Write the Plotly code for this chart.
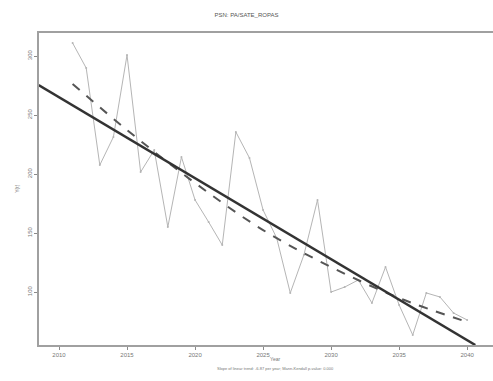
import plotly.graph_objects as go

years = list(range(2011, 2041))
values = [311.0, 289.8, 207.6, 231.4, 300.8, 201.7, 220.3, 155.1, 214.4, 178.0,
          159.3, 139.8, 235.6, 213.6, 169.5, 145.8, 99.2, 131.4, 178.0, 100.0,
          104.2, 110.2, 90.7, 121.2, 89.0, 63.6, 99.2, 95.8, 82.2, 76.3]

smooth_years = [2011, 2015, 2020, 2025, 2030, 2035, 2040]
smooth_values = [276.3, 237.3, 192.4, 152.5, 121.2, 94.9, 74.6]

linear_years = [2008.5, 2040.6]
linear_values = [275.4, 55.1]

x_ticks = [2010, 2015, 2020, 2025, 2030, 2035, 2040]
y_ticks = [100, 150, 200, 250, 300]

gray = "#8a8a8a"
font = dict(family="Liberation Sans, Arial, sans-serif", size=6, color="#777777")

fig = go.Figure()
fig.add_trace(go.Scatter(x=years, y=values, mode="lines+markers",
                         line=dict(color="#b5b5b5", width=1),
                         marker=dict(size=2, color="#b5b5b5"), hoverinfo="skip"))
fig.add_trace(go.Scatter(x=smooth_years, y=smooth_values, mode="lines",
                         line=dict(color="#555555", width=2, dash="dash", shape="spline"),
                         hoverinfo="skip"))
fig.add_trace(go.Scatter(x=linear_years, y=linear_values, mode="lines",
                         line=dict(color="#333333", width=2.5), hoverinfo="skip"))

fig.update_layout(
    width=493, height=381,
    margin=dict(l=39, r=0, t=33, b=36, autoexpand=False),
    paper_bgcolor="white", plot_bgcolor="white",
    showlegend=False,
    font=font,
    title=dict(text="PSN: PA/SATE_ROPAS", x=0.5, xanchor="center", y=0.96, yanchor="middle",
               font=dict(size=6, color="#555555"), automargin=False),
    annotations=[
        dict(text="Year", xref="paper", yref="paper", x=0.52, y=-0.06, showarrow=False,
             font=dict(size=5, color="#777777")),
        dict(text="Slope of linear trend: -6.87 per year; Mann-Kendall p-value: 0.000",
             xref="paper", yref="paper", x=0.52, y=-0.09, showarrow=False,
             font=dict(size=4, color="#777777")),
        dict(text="Y(t)", xref="paper", yref="paper", x=-0.06, y=0.5, showarrow=False,
             textangle=-90, font=dict(size=5, color="#777777")),
    ],
)
fig.update_xaxes(range=[2008.53, 2041.9], tickvals=x_ticks, ticks="outside", ticklen=3,
                 tickcolor=gray, showgrid=False, zeroline=False, showline=True,
                 linecolor="#a0a0a0", linewidth=1.5, mirror=True, automargin=False)
fig.update_yaxes(range=[55.1, 319.5], tickvals=y_ticks, ticks="outside", ticklen=3,
                 tickcolor=gray, tickangle=-90, showgrid=False, zeroline=False, showline=True,
                 linecolor="#a0a0a0", linewidth=1.5, mirror=True, automargin=False)

fig.write_html("out.html", config={"displayModeBar": False},
               post_script="document.body.style.margin='0';document.body.style.overflow='hidden';")
